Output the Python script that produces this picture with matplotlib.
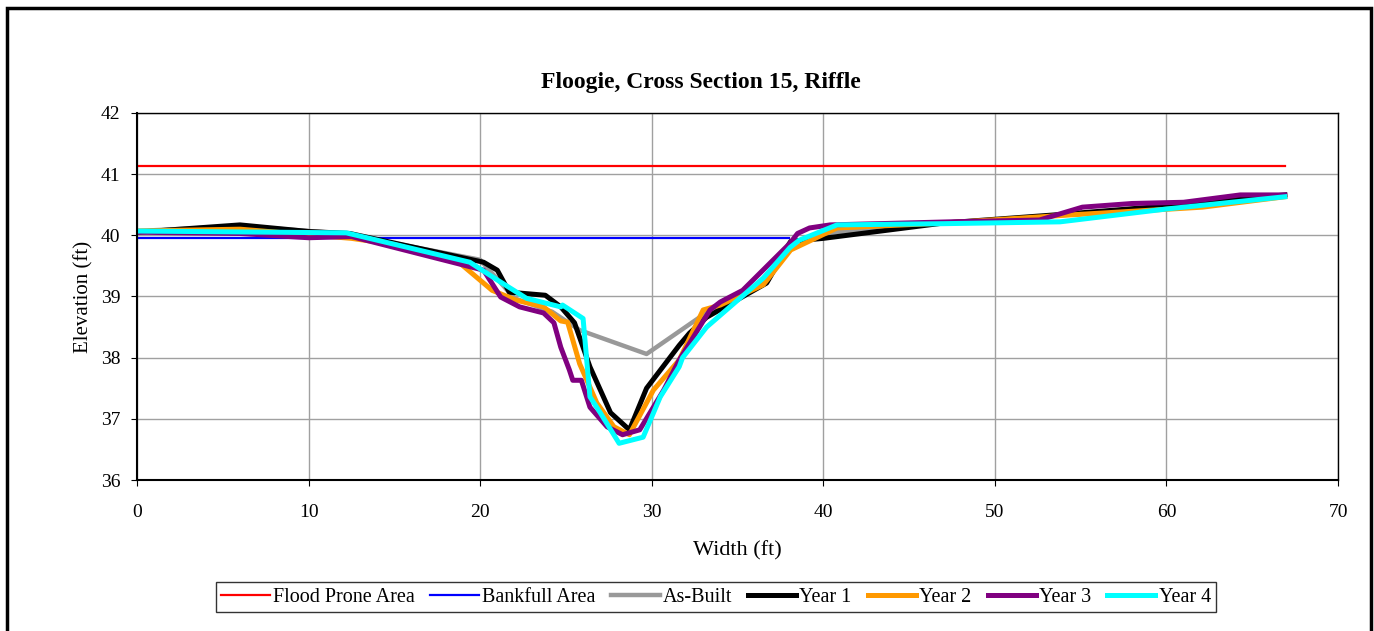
import matplotlib.pyplot as plt
from matplotlib.patches import Rectangle

# Cross section survey data (width ft, elevation ft)
flood_x = [0, 66.9]
flood_y = [41.13, 41.13]

bankfull_x = [0, 38.0]
bankfull_y = [39.96, 39.96]

asbuilt_x = [0, 6, 12, 20, 22, 24.2, 25.8, 29.7, 33.0, 36.7, 38.0, 40.4, 47, 54, 60, 66.9]
asbuilt_y = [40.07, 40.15, 40.03, 39.6, 38.97, 38.75, 38.45, 38.06, 38.7, 39.25, 39.87, 40.04, 40.2, 40.33, 40.45, 40.65]

year1_x = [0, 6.0, 10.1, 12.4, 20.2, 21.0, 21.7, 23.8, 24.7, 25.5, 26.4, 27.6, 28.7, 29.7, 31.6,
           32.2, 33.2, 36.7, 38.1, 40.0, 47.0, 53.8, 60.0, 66.9]
year1_y = [40.05, 40.17, 40.06, 40.03, 39.56, 39.43, 39.07, 39.02, 38.83, 38.57, 37.85, 37.1, 36.82, 37.5, 38.2,
           38.4, 38.66, 39.22, 39.9, 39.95, 40.2, 40.34, 40.48, 40.66]

year2_x = [0, 6.0, 12.5, 15.0, 18.8, 20.7, 22.1, 23.7, 24.7, 25.1, 25.8, 26.8, 27.8, 28.7, 30.1, 31.6,
           33.0, 34.0, 36.5, 38.1, 40.8, 47.0, 54.2, 62.1, 66.9]
year2_y = [40.07, 40.1, 39.95, 39.85, 39.55, 39.1, 38.94, 38.83, 38.6, 38.58, 37.9, 37.26, 36.87, 36.74, 37.47, 37.96,
           38.78, 38.86, 39.19, 39.76, 40.12, 40.2, 40.33, 40.46, 40.63]

year3_x = [0, 6.0, 10.0, 12.5, 20.2, 21.2, 22.3, 23.7, 24.3, 24.7, 25.2, 25.4, 25.9, 26.4, 27.4, 28.3,
           29.3, 30.7, 31.6, 33.4, 34.0, 35.3, 38.06, 38.5, 39.2, 40.4, 47.4, 52.6, 55.1, 58.0, 61.0, 64.3, 66.9]
year3_y = [40.05, 40.03, 39.96, 39.98, 39.43, 38.99, 38.83, 38.73, 38.57, 38.17, 37.8, 37.63, 37.63, 37.19, 36.87, 36.74,
           36.82, 37.47, 37.96, 38.78, 38.91, 39.1, 39.87, 40.03, 40.12, 40.17, 40.22, 40.25, 40.46, 40.52, 40.54, 40.66, 40.66]

year4_x = [0, 12.2, 19.4, 21.0, 22.7, 24.7, 24.8, 26.0, 26.4, 27.0, 28.1, 29.5, 30.5, 31.6, 31.8,
           33.2, 36.5, 38.06, 38.6, 40.8, 47.0, 53.8, 60.0, 66.9]
year4_y = [40.07, 40.04, 39.56, 39.27, 38.97, 38.83, 38.86, 38.64, 37.36, 37.1, 36.6, 36.7, 37.36, 37.85, 38.0,
           38.5, 39.3, 39.8, 39.92, 40.17, 40.19, 40.22, 40.43, 40.63]

plt.rcParams['font.family'] = ['Liberation Serif', 'DejaVu Serif']

fig = plt.figure(figsize=(13.74, 6.31), dpi=100)
ax = fig.add_axes([0.0997, 0.2393, 0.8741, 0.5817])

ax.plot(flood_x, flood_y, color='#ff0000', lw=1.6, label='Flood Prone Area')
ax.plot(bankfull_x, bankfull_y, color='#0000ff', lw=1.6, label='Bankfull Area')
ax.plot(asbuilt_x, asbuilt_y, color='#999999', lw=3.2, label='As-Built')
ax.plot(year1_x, year1_y, color='#000000', lw=3.6, label='Year 1')
ax.plot(year2_x, year2_y, color='#ff9900', lw=3.6, label='Year 2')
ax.plot(year3_x, year3_y, color='#800080', lw=3.6, label='Year 3')
ax.plot(year4_x, year4_y, color='#00ffff', lw=3.6, label='Year 4')

ax.set_xlim(0, 70)
ax.set_ylim(36, 42)
ax.set_xticks(range(0, 71, 10))
ax.set_yticks(range(36, 43))
ax.grid(True, color='#a0a0a0', lw=1.0)
ax.set_axisbelow(True)
ax.tick_params(labelsize=14, length=4, direction='out')
ax.tick_params(axis='x', pad=13)
ax.tick_params(axis='y', pad=8)
for s in ax.spines.values():
    s.set_color('black')
    s.set_linewidth(1.0)
ax.spines['left'].set_linewidth(1.5)
ax.spines['bottom'].set_linewidth(1.5)

ax.set_xlabel('Width (ft)', fontsize=16, labelpad=15)
ax.set_ylabel('Elevation (ft)', fontsize=15, labelpad=5)
ax.set_title('Floogie, Cross Section 15, Riffle', fontsize=17, fontweight='bold', pad=18,
             x=(701 - 137) / 1201)

leg = ax.legend(loc='center', bbox_to_anchor=(716 / 1374, 1 - 597 / 631), bbox_transform=fig.transFigure,
                ncol=7, fontsize=14.5, frameon=True, fancybox=False, edgecolor='black',
                handlelength=2.4, handletextpad=0.15, columnspacing=0.8, borderpad=0.25)
leg.get_frame().set_linewidth(1.0)

fig.patches.append(Rectangle((7 / 1374, -0.05), 1364 / 1374, 1.05 - 8 / 631, transform=fig.transFigure,
                             fill=False, edgecolor='black', lw=2.5))

fig.savefig('out.png', dpi=100)
